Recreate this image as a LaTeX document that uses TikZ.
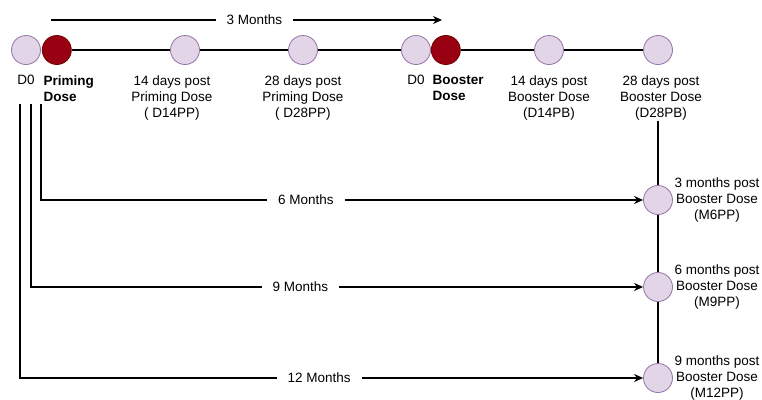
\documentclass[tikz,border=0pt]{standalone}
\usepackage{fontspec}
\setmainfont{Liberation Sans}
\usetikzlibrary{arrows.meta,positioning}
\definecolor{visitfill}{HTML}{E1D5E7}
\definecolor{visitline}{HTML}{9673A6}
\definecolor{dosefill}{HTML}{990012}
\definecolor{doseline}{HTML}{6F0000}

\begin{document}
\begin{tikzpicture}[x=1pt, y=-1pt, >={Stealth[length=9pt,width=8pt]}, line width=1.3pt,
	visit/.style={circle, draw=visitline, fill=visitfill, line width=0.8pt, minimum size=29pt, inner sep=0pt},
	dose/.style={visit, draw=doseline, fill=dosefill},
	txt/.style={inner sep=0pt, align=center, font=\fontsize{13.5}{16}\selectfont},
	bold/.style={txt, align=left, font=\fontsize{13.5}{16}\selectfont\bfseries},
	gap/.style={txt, fill=white, inner xsep=11pt, inner ysep=2pt}]
	\useasboundingbox (0,0) rectangle (762,399);

	% Nodes {visits on the time line}
	\node [visit]	(pd0)	at (26,50)			{};
	\node [dose]	(prime)	[right=1pt of pd0]	{};
	\node [visit]	(d14pp)	at (185,50)			{};
	\node [visit]	(d28pp)	at (303,50)			{};
	\node [visit]	(bd0)	at (416,50)			{};
	\node [dose]	(boost)	[right=0pt of bd0]	{};
	\node [visit]	(d14pb)	at (549,50)			{};
	\node [visit]	(d28pb)	at (658,50)			{};
	\node [visit]	(m6)	at (658,200)		{};
	\node [visit]	(m9)	at (658,287)		{};
	\node [visit]	(m12)	at (658,378)		{};

	% Labels
	\node [txt]		(pd0l)		[below=10pt of pd0]				{D0};
	\node [bold, anchor=north west]	(primel)	at (43,75)		{Priming\\Dose};
	\node [txt]		(d14ppl)	[below=10pt of d14pp, xshift=-13pt]	{14 days post\\Priming Dose\\( D14PP)};
	\node [txt]		(d28ppl)	[below=10pt of d28pp]			{28 days post\\Priming Dose\\( D28PP)};
	\node [txt]		(bd0l)		[below=10pt of bd0]				{D0};
	\node [bold, anchor=north west]	(boostl)	at (432,75)		{Booster\\Dose};
	\node [txt]		(d14pbl)	[below=10pt of d14pb]			{14 days post\\Booster Dose\\(D14PB)};
	\node [txt]		(d28pbl)	[below=10pt of d28pb, xshift=3pt]	{28 days post\\Booster Dose\\(D28PB)};
	\node [txt]		(m6l)		[right=1pt of m6]				{3 months post\\Booster Dose\\(M6PP)};
	\node [txt]		(m9l)		[right=1pt of m9]				{6 months post\\Booster Dose\\(M9PP)};
	\node [txt]		(m12l)		[right=1pt of m12]				{9 months post\\Booster Dose\\(M12PP)};

	% Free ends
	\coordinate (top0) at (51,20);
	\coordinate (top1) at (442,20);
	\coordinate (s6)  at (41,104);
	\coordinate (s9)  at (31,104);
	\coordinate (s12) at (20,104);

	% Paths
	\draw (prime) -- (d14pp) -- (d28pp) -- (bd0);
	\draw (boost) -- (d14pb) -- (d28pb);
	\draw (d28pbl.south -| d28pb) -- (m6) -- (m9) -- (m12);

	\draw [->] (top0) -- node [gap, pos=0.52] {3 Months} (top1);
	\draw [->] (s6)  |- node [gap, pos=0.72] {6 Months}  (m6);
	\draw [->] (s9)  |- node [gap, pos=0.72] {9 Months}  (m9);
	\draw [->] (s12) |- node [gap, pos=0.74] {12 Months} (m12);
\end{tikzpicture}
\end{document}
